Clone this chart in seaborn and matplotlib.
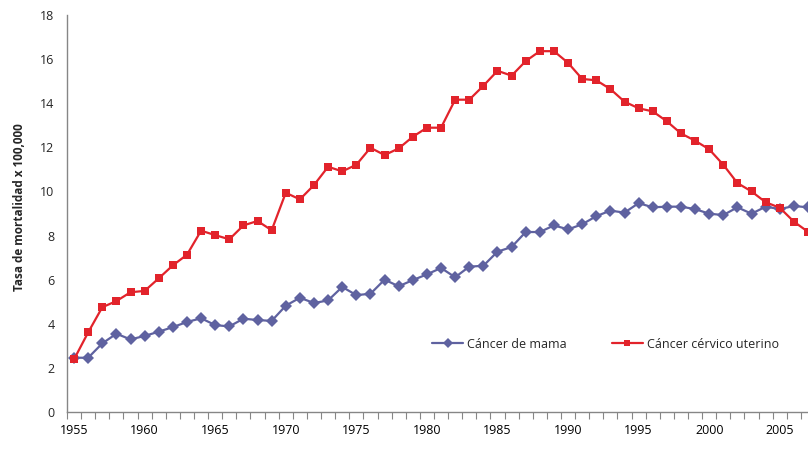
import matplotlib
matplotlib.use("Agg")
import matplotlib.pyplot as plt
import seaborn as sns
import pandas as pd
import numpy as np

years = list(range(1955, 2008))
mama = [2.46, 2.46, 3.11, 3.55, 3.29, 3.45, 3.64, 3.85, 4.08, 4.25,
        3.94, 3.88, 4.23, 4.17, 4.13, 4.82, 5.18, 4.94, 5.06, 5.67,
        5.30, 5.36, 6.00, 5.70, 5.98, 6.24, 6.53, 6.11, 6.59, 6.63,
        7.27, 7.48, 8.16, 8.16, 8.46, 8.28, 8.51, 8.88, 9.13, 9.04,
        9.47, 9.28, 9.31, 9.31, 9.20, 8.99, 8.93, 9.28, 8.99, 9.31,
        9.20, 9.34, 9.28]
cervico = [2.39, 3.61, 4.75, 5.03, 5.43, 5.49, 6.06, 6.65, 7.13, 8.22,
           8.02, 7.83, 8.46, 8.66, 8.24, 9.94, 9.64, 10.29, 11.12, 10.91,
           11.21, 11.98, 11.65, 11.95, 12.48, 12.89, 12.89, 14.16, 14.16, 14.79,
           15.47, 15.25, 15.91, 16.36, 16.36, 15.83, 15.10, 15.04, 14.64, 14.07,
           13.77, 13.63, 13.18, 12.63, 12.30, 11.91, 11.21, 10.38, 10.00, 9.51,
           9.26, 8.63, 8.17]
series_names = ["Cáncer de mama", "Cáncer cérvico uterino"]
ylabel = "Tasa de mortalidad x 100,000"
xtick_labels = [1955, 1960, 1965, 1970, 1975, 1980, 1985, 1990, 1995, 2000, 2005]
yticks = list(range(0, 19, 2))

df = pd.DataFrame({
    "year": years * 2,
    "value": mama + cervico,
    "serie": [series_names[0]] * len(years) + [series_names[1]] * len(years),
})

sns.set_style("white")
plt.rcParams["font.family"] = ["Open Sans", "DejaVu Sans"]

fig = plt.figure(figsize=(8.08, 4.49), dpi=100)
ax = fig.add_axes([67 / 808, 1 - 412 / 449, 1 - 67 / 808, (412 - 15) / 449])

blue = "#5F62A0"
red = "#E2232B"

sns.lineplot(data=df[df.serie == series_names[0]], x="year", y="value",
             color=blue, marker="D", markersize=6.6, markeredgewidth=0,
             linewidth=1.6, ax=ax, label=series_names[0])
sns.lineplot(data=df[df.serie == series_names[1]], x="year", y="value",
             color=red, marker="s", markersize=5.6, markeredgewidth=0,
             linewidth=1.6, ax=ax, label=series_names[1])

ax.set_yticks(yticks)
ax.set_xticks(xtick_labels)
ax.set_xticks(np.arange(1954.5, 2008, 1), minor=True)
ax.set_xlim(1954.5, 2007.0)
ax.set_ylim(0, 18)
ax.tick_params(axis="x", which="major", length=0, labelsize=9, pad=9, colors="black")
ax.tick_params(axis="x", which="minor", length=5, width=0.8, color="#868686", direction="out", bottom=True)
ax.tick_params(axis="y", length=0, labelsize=9, pad=9)
ax.set_xlabel("")
ax.set_ylabel(ylabel, fontsize=8.5, fontweight="bold", labelpad=10)
ax.yaxis.set_label_coords(-0.055, 0.515)

for s in ["top", "right"]:
    ax.spines[s].set_visible(False)
for s in ["left", "bottom"]:
    ax.spines[s].set_color("#868686")
    ax.spines[s].set_linewidth(1.0)

leg = ax.legend(loc="center left", bbox_to_anchor=(432 / 808, 1 - 344 / 449),
                bbox_transform=fig.transFigure, ncol=2, frameon=False,
                fontsize=9, handlelength=2.5, handletextpad=0.3,
                columnspacing=3.6, borderpad=0, borderaxespad=0, markerscale=0.75)

fig.savefig("out.png", dpi=100)
